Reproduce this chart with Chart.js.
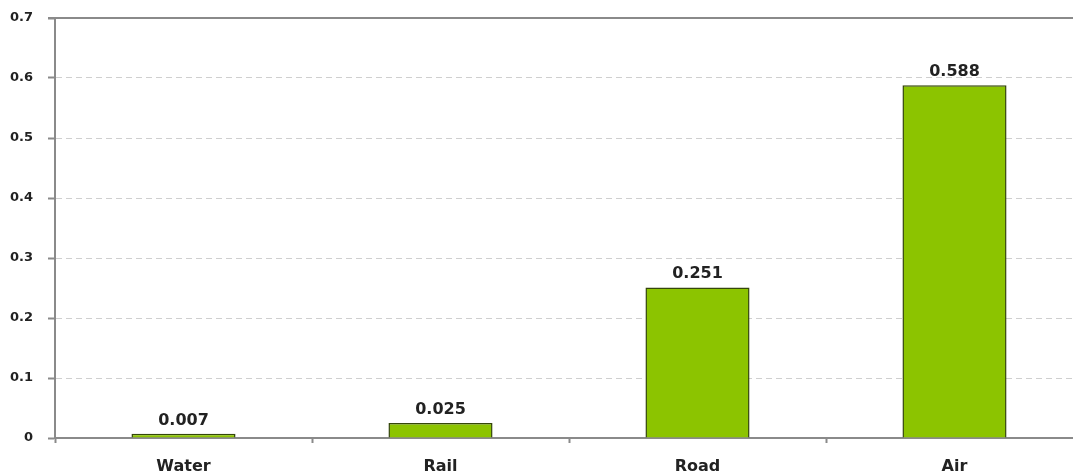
<!DOCTYPE html>
<html>
<head>
<meta charset="utf-8">
<script src="https://cdn.jsdelivr.net/npm/chart.js@4/dist/chart.umd.min.js"></script>
<style>
  html, body { margin: 0; padding: 0; background: #fff; overflow: hidden; }
  #wrap { width: 1083px; height: 475px; }
</style>
</head>
<body>
<div id="wrap"><canvas id="modes" width="1083" height="475"></canvas></div>
<script>
const categories = ['Water', 'Rail', 'Road', 'Air'];
const values = [0.007, 0.025, 0.251, 0.588];
const yTickLabels = ['0', '0.1', '0.2', '0.3', '0.4', '0.5', '0.6', '0.7'];

const FONT = '"DejaVu Sans", Verdana, sans-serif';

// value labels above each bar + solid top border of the plot
const barValues = {
  id: 'barValues',
  afterDatasetsDraw(chart) {
    const ctx = chart.ctx;
    const meta = chart.getDatasetMeta(0);
    ctx.save();
    ctx.font = 'bold 16px ' + FONT;
    ctx.fillStyle = '#222';
    ctx.textAlign = 'center';
    ctx.textBaseline = 'alphabetic';
    meta.data.forEach((bar, i) => {
      ctx.fillText(values[i].toFixed(3), bar.x, bar.y - 9);
    });
    const area = chart.chartArea;
    ctx.strokeStyle = '#8a8a8a';
    ctx.lineWidth = 2;
    ctx.beginPath();
    ctx.moveTo(area.left - 7, area.top);
    ctx.lineTo(area.right, area.top);
    ctx.stroke();
    ctx.restore();
  },
};

new Chart(document.getElementById('modes'), {
  type: 'bar',
  data: {
    labels: categories,
    datasets: [
      {
        data: values,
        backgroundColor: '#8cc400',
        borderColor: '#34460a',
        borderWidth: 1.5,
        borderSkipped: 'bottom',
        barPercentage: 0.81,
        categoryPercentage: 0.5,
      },
    ],
  },
  plugins: [barValues],
  options: {
    responsive: false,
    animation: false,
    layout: {
      padding: { top: 18, right: 0, left: 0, bottom: 0 },
    },
    plugins: {
      legend: { display: false },
      tooltip: { enabled: false },
    },
    scales: {
      x: {
        afterFit(scale) {
          scale.height = 37;
        },
        border: { color: '#8a8a8a', width: 2 },
        grid: {
          display: true,
          drawOnChartArea: false,
          drawTicks: true,
          tickLength: 5,
          tickWidth: 2,
          tickColor: '#8a8a8a',
          offset: true,
        },
        ticks: {
          color: '#222',
          padding: 14,
          font: { family: FONT, size: 16, weight: 'bold' },
        },
      },
      y: {
        min: 0,
        max: 0.7,
        afterFit(scale) {
          scale.width = 55;
          // tick padding is only meant to push labels away horizontally
          scale.paddingTop = 8;
          scale.paddingBottom = 8;
        },
        border: { color: '#8a8a8a', width: 2, dash: [6, 4] },
        grid: {
          color: (c) => (c.tick && (c.index === 0 || c.index === 7) ? 'rgba(0,0,0,0)' : '#cfcfcf'),
          lineWidth: 1,
          drawTicks: true,
          tickLength: 7,
          tickWidth: 2,
          tickColor: '#8a8a8a',
          tickBorderDash: [],
        },
        ticks: {
          stepSize: 0.1,
          color: '#222',
          padding: 15,
          font: { family: FONT, size: 13, weight: 'bold' },
          callback: (value, index) => yTickLabels[index],
        },
      },
    },
  },
});
</script>
</body>
</html>
